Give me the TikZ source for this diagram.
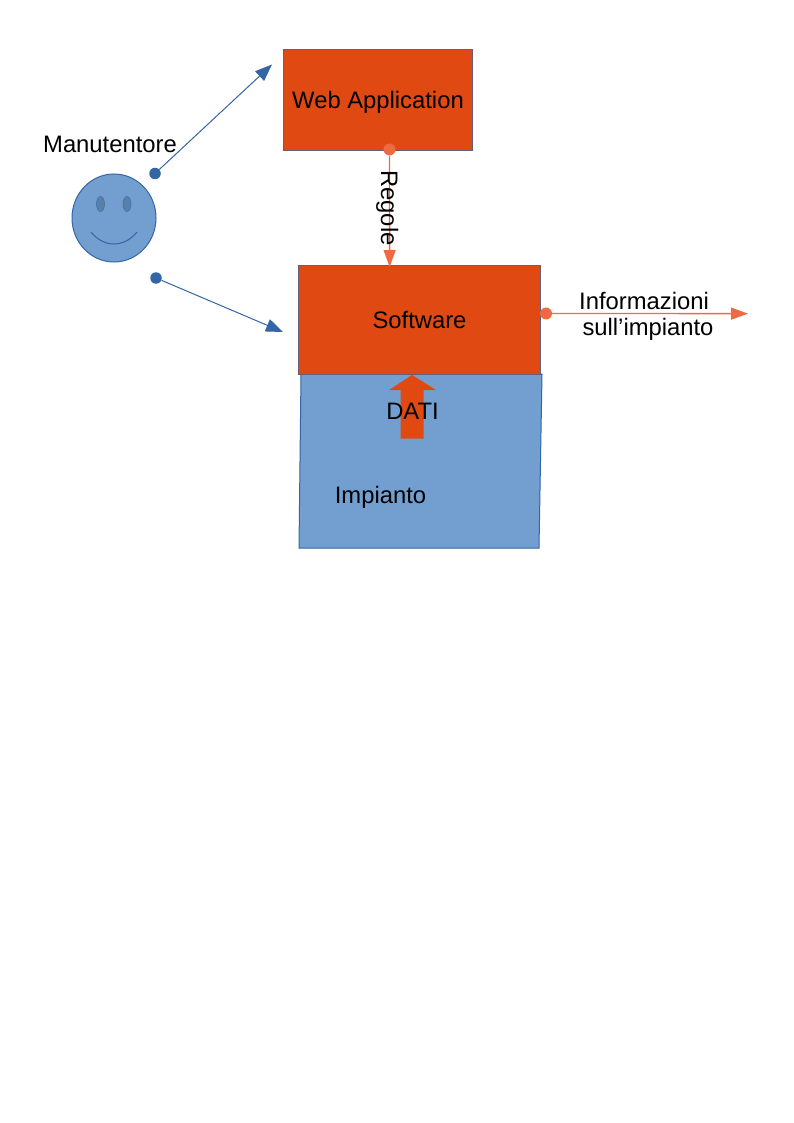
\documentclass[tikz,border=0pt]{standalone}
\usepackage{fontspec}
\setmainfont{Liberation Sans}
\usetikzlibrary{arrows.meta}
\definecolor{boxred}{HTML}{E04A12}
\definecolor{boxblue}{HTML}{729FCF}
\definecolor{edgeblue}{HTML}{3465A4}
\definecolor{edgered}{HTML}{ED6A43}
\definecolor{eyeblue}{HTML}{5B80A8}
\tikzset{
  label text/.style={font=\fontsize{23.8}{28}\selectfont, text=black, inner sep=0pt, anchor=base},
  red box/.style={draw=edgeblue!70!boxred, line width=1pt, fill=boxred},
  blue shape/.style={draw=edgeblue, line width=1pt, fill=boxblue},
  blue link/.style={color=edgeblue, line width=1pt, -{Triangle[length=17pt,width=13pt]}},
  red link/.style={color=edgered, line width=1.3pt, -{Triangle[length=17pt,width=12pt]}},
  blue dot/.style={circle, fill=edgeblue, inner sep=0pt, minimum size=11.5pt},
  red dot/.style={circle, fill=edgered, inner sep=0pt, minimum size=12pt}
}
\begin{document}
\begin{tikzpicture}[x=1pt,y=-1pt]
\useasboundingbox (0,0) rectangle (794,1123);
% plant
\draw[blue shape] (301,374) -- (542,374) -- (539,548) -- (299,548) -- cycle;
% boxes
\draw[red box] (283.7,49.7) rectangle (472.5,151);
\draw[red box] (298.7,265) rectangle (540.5,374);
% data arrow
\fill[boxred] (412,375) -- (436,390) -- (423.5,390) -- (423.5,438.5) -- (400.7,438.5) -- (400.7,390) -- (389,390) -- cycle;
% smiley
\draw[blue shape] (114,218) ellipse [x radius=42, y radius=44];
\draw[draw=edgeblue!80!boxblue, line width=0.6pt, fill=eyeblue] (100.5,204) ellipse [x radius=4, y radius=7.5];
\draw[draw=edgeblue!80!boxblue, line width=0.6pt, fill=eyeblue] (127,204) ellipse [x radius=4, y radius=7.5];
\draw[edgeblue, line width=1pt] (91,232) .. controls (104,248) and (124,248) .. (137,232);
% connector ends
\node[blue dot] (d1) at (155,173.5) {};
\node[blue dot] (d2) at (156,278) {};
\coordinate (t1) at (272,64.5);
\coordinate (t2) at (283,332);
\draw[blue link] (d1) -- (t1);
\draw[blue link] (d2) -- (t2);
\node[red dot] (d3) at (389.5,149.5) {};
\coordinate (t3) at (389.65,267);
\draw[red link] (d3) -- (t3);
\node[red dot] (d4) at (546,313.5) {};
\coordinate (t4) at (748,313.65);
\draw[red link] (d4) -- (t4);
% labels
\node[label text] (man) at (110,152.7) {Manutentore};
\node[label text] (web) at (378,108.7) {Web Application};
\node[label text] (soft) at (419.5,328) {Software};
\node[label text] (dati) at (412.5,419) {DATI};
\node[label text] (imp) at (380.5,503) {Impianto};
\node[label text] (inf1) at (644,309) {Informazioni};
\node[label text] (inf2) at (648,335) {sull’impianto};
\node[label text, rotate=-90] (reg) at (381,208) {Regole};
\end{tikzpicture}
\end{document}
